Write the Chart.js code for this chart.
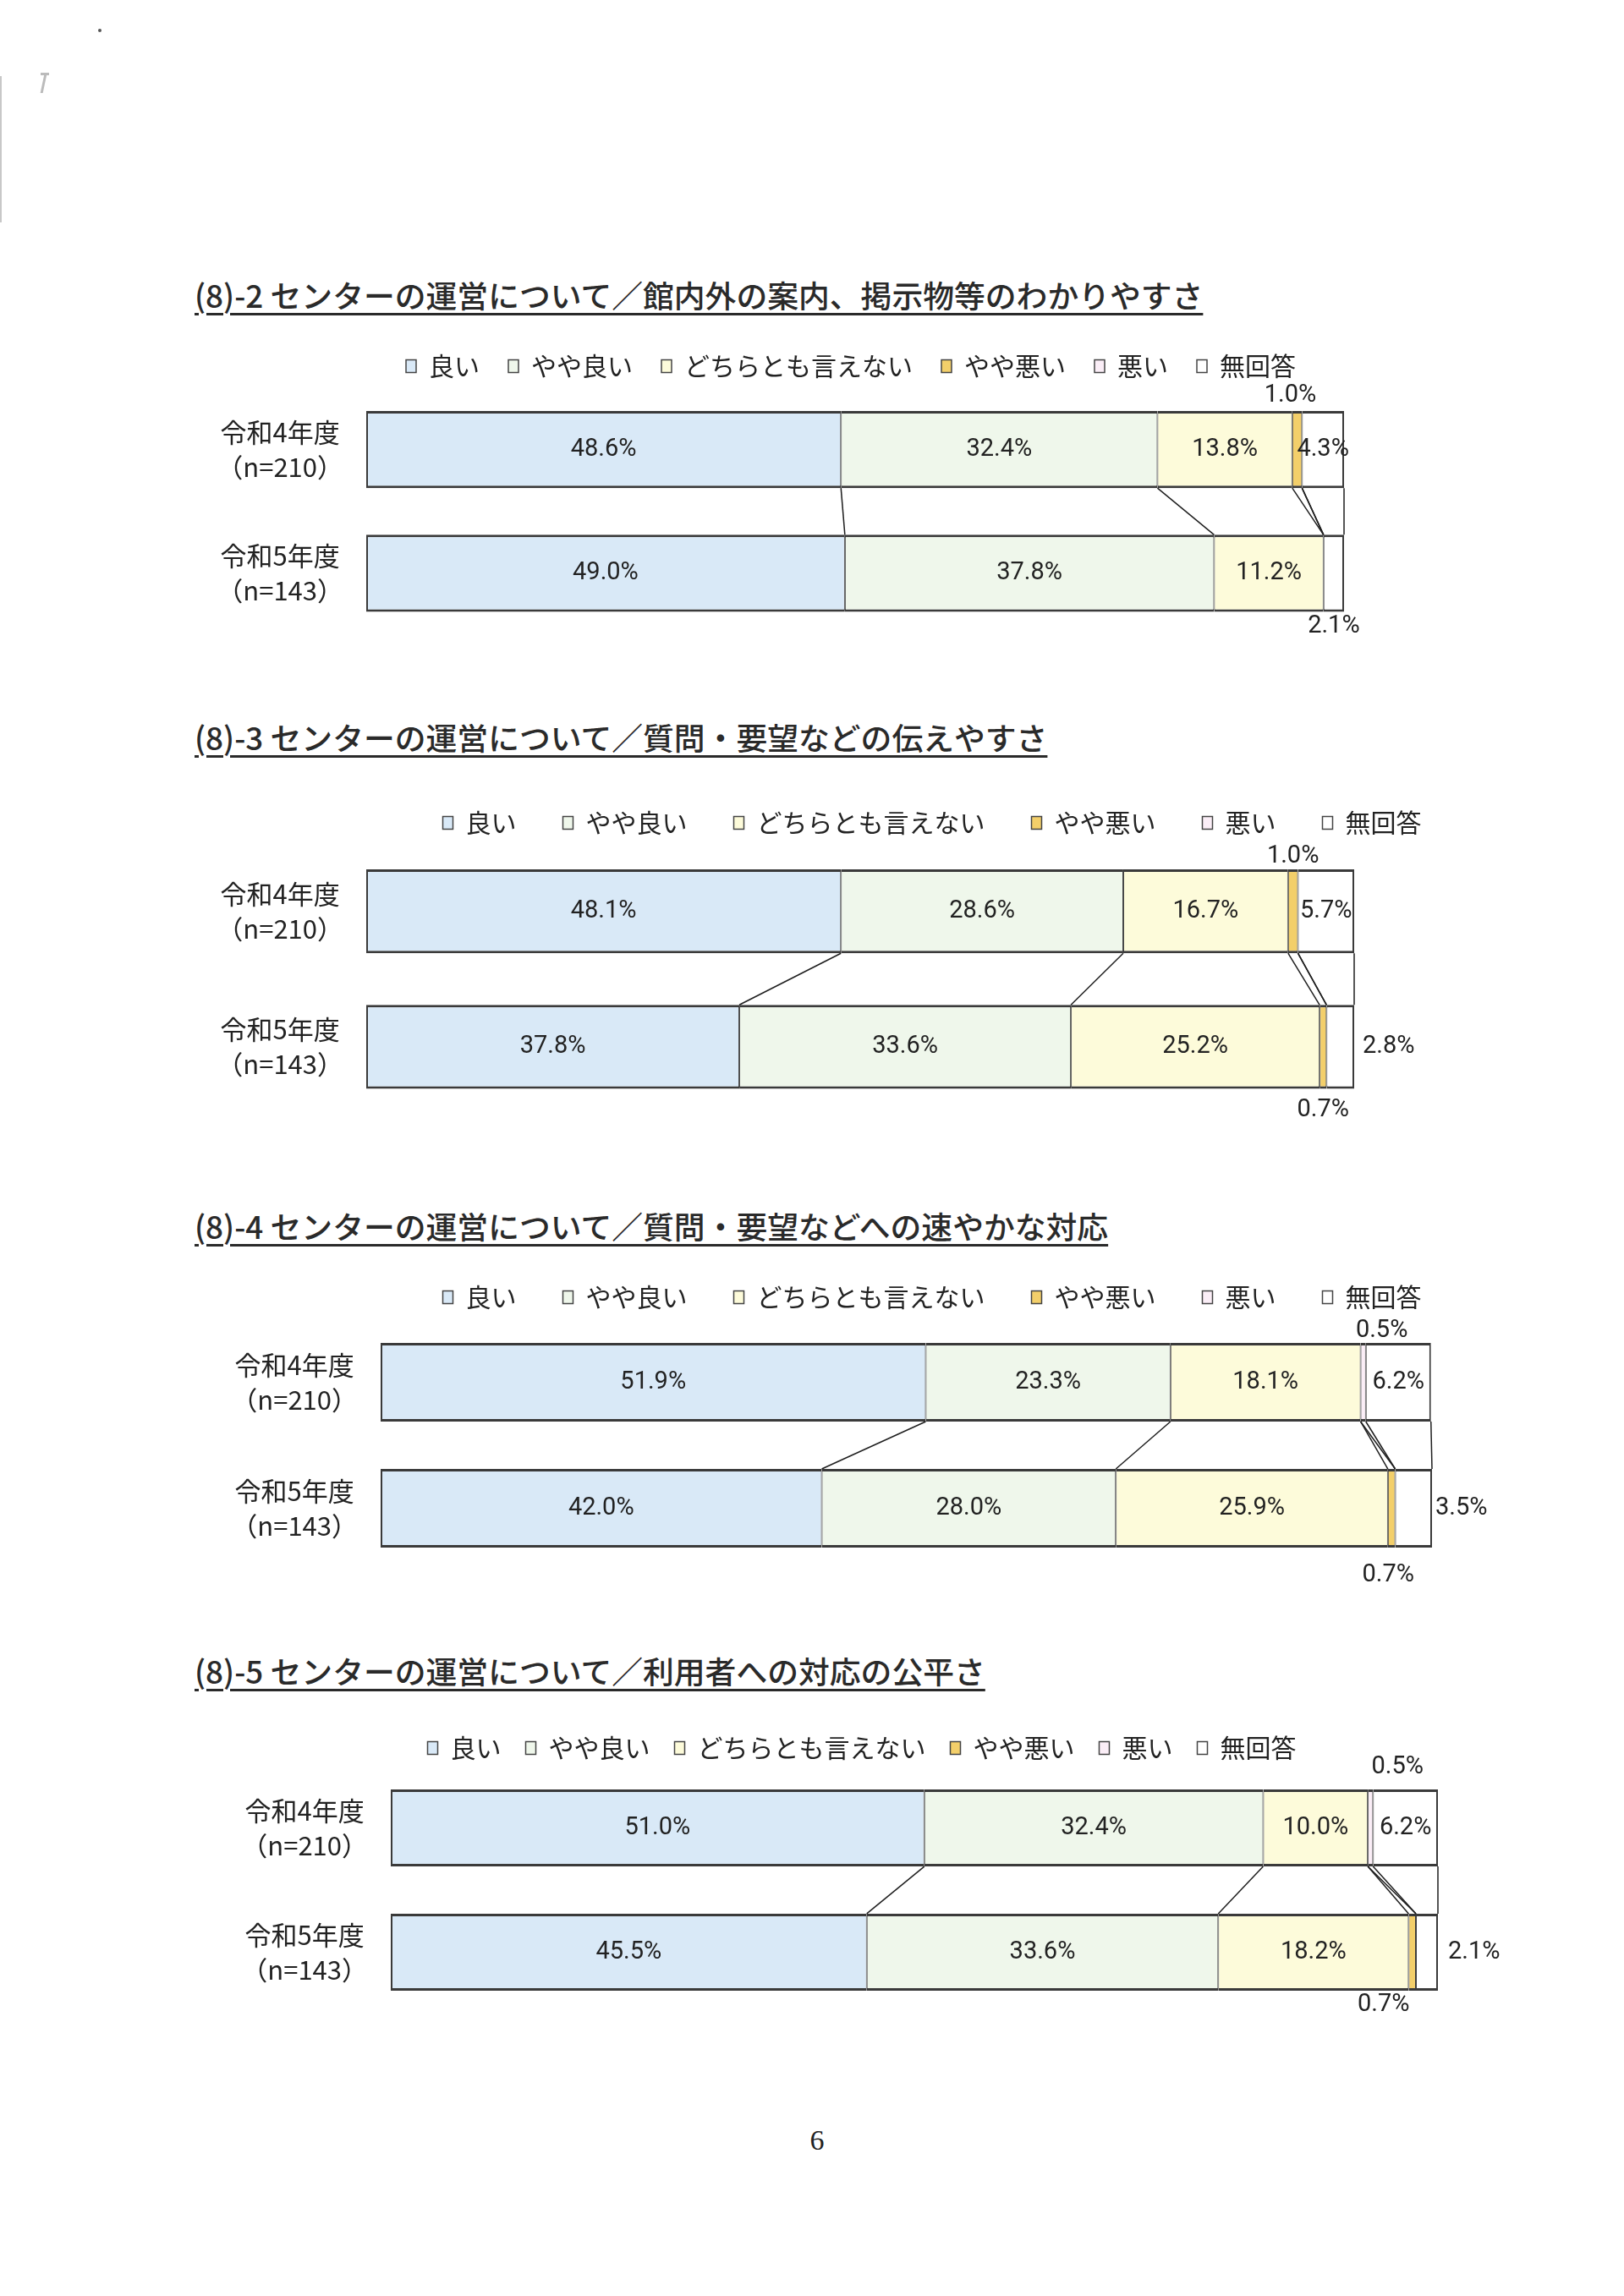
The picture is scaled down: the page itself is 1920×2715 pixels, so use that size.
<!DOCTYPE html>
<html><head><meta charset="utf-8">
<script src="https://cdn.jsdelivr.net/npm/chart.js@4.4.1/dist/chart.umd.min.js"></script>
<style>
html,body{margin:0;padding:0;background:#fff;overflow:hidden;}
body{width:1920px;height:2715px;position:relative;}
.title{position:absolute;left:230px;font-family:'Noto Sans CJK JP',sans-serif;font-weight:500;font-size:36.8px;color:#2a2a2a;line-height:1;white-space:nowrap;text-decoration:underline;text-decoration-thickness:3px;text-underline-offset:6px;}
canvas{position:absolute;left:0;}
.pnum{position:absolute;left:916px;width:100px;text-align:center;top:2512px;font-family:'Liberation Serif','DejaVu Serif',serif;font-size:34px;color:#222;}
.scan1{position:absolute;left:0;top:90px;width:2px;height:173px;background:#c8c8c8;}
.scan2{position:absolute;left:116px;top:34px;width:4px;height:4px;border-radius:2px;background:#555;}
.scan3{position:absolute;left:48px;top:86px;width:10px;height:3px;background:#bbb;}
.scan4{position:absolute;left:50px;top:88px;width:3px;height:22px;background:#bbb;transform:skewX(-12deg);}
</style>
</head><body>
<div class="scan1"></div><div class="scan2"></div><div class="scan3"></div><div class="scan4"></div>
<div class="pnum">6</div>
<script>
// ---- data ----
const SERIES = ['良い', 'やや良い', 'どちらとも言えない', 'やや悪い', '悪い', '無回答'];
const ROW_LABELS = [['令和4年度', '（n=210）'], ['令和5年度', '（n=143）']];
const TITLES = [
  '(8)-2 センターの運営について／館内外の案内、掲示物等のわかりやすさ',
  '(8)-3 センターの運営について／質問・要望などの伝えやすさ',
  '(8)-4 センターの運営について／質問・要望などへの速やかな対応',
  '(8)-5 センターの運営について／利用者への対応の公平さ'
];
// values in series order: 良い, やや良い, どちらとも言えない, やや悪い, 悪い, 無回答
const q2_r4 = [48.6, 32.4, 13.8, 1.0, 0, 4.3];
const q2_r5 = [49.0, 37.8, 11.2, 0, 0, 2.1];
const q3_r4 = [48.1, 28.6, 16.7, 1.0, 0, 5.7];
const q3_r5 = [37.8, 33.6, 25.2, 0.7, 0, 2.8];
const q4_r4 = [51.9, 23.3, 18.1, 0, 0.5, 6.2];
const q4_r5 = [42.0, 28.0, 25.9, 0.7, 0, 3.5];
const q5_r4 = [51.0, 32.4, 10.0, 0, 0.5, 6.2];
const q5_r5 = [45.5, 33.6, 18.2, 0.7, 0, 2.1];

// ---- style ----
const COLORS = ['#d9e9f7', '#eff7eb', '#fdfbda', '#f3cf6a', '#fbeef7', '#ffffff'];
const BORDER = '#3a3a3a';
const TEXT = '#222222';
const JP = "'Noto Sans CJK JP', sans-serif";
const NUM = "'Liberation Sans Narrow', 'Arial Narrow', Roboto, sans-serif";
const LEG_FONT = 30, PAD_TOP = 30, PAD_BOTTOM = 80, ITEM_H = 30, CANVAS_W = 2000, A = 240;

const charts = [
  {r4: q2_r4, r5: q2_r5, titleY: 350, legendY: 433, pad: 34, chartTop: 458.5, step: 146, barPct: 0.623,
   barLeft: 433, barRight: 1589, cx: 1006,
   marks: [{3: {pos: 'above', dx: -8, dy: 0}}, {5: {pos: 'below', dx: 0, dy: -3}}]},
  {r4: q3_r4, r5: q3_r5, titleY: 873, legendY: 973, pad: 55, chartTop: 997.5, step: 160, barPct: 0.619,
   barLeft: 433, barRight: 1601, cx: 1102,
   marks: [{3: {pos: 'above', dx: 0, dy: 3}}, {3: {pos: 'below', dx: 0, dy: 5}, 5: {pos: 'right', dx: 10}}]},
  {r4: q4_r4, r5: q4_r5, titleY: 1451, legendY: 1534, pad: 55, chartTop: 1560, step: 149, barPct: 0.624,
   barLeft: 450, barRight: 1693, cx: 1102,
   marks: [{4: {pos: 'above', dx: 22, dy: 4}}, {3: {pos: 'below', dx: -4, dy: 13}, 5: {pos: 'right', dx: 4}}]},
  {r4: q5_r4, r5: q5_r5, titleY: 1977, legendY: 2067, pad: 29, chartTop: 2088, step: 147, barPct: 0.62,
   barLeft: 462, barRight: 1700, cx: 1019,
   marks: [{4: {pos: 'above', dx: 32, dy: -8}}, {3: {pos: 'below', dx: -34, dy: -3}, 5: {pos: 'right', dx: 12}}]}
];

charts.forEach((L, ci) => {
  const t = document.createElement('div');
  t.className = 'title';
  t.textContent = TITLES[ci];
  t.style.top = (L.titleY - 20) + 'px';
  document.body.appendChild(t);

  const canvasTop = Math.round(L.legendY - L.pad - ITEM_H / 2 - PAD_TOP);
  const legendH = L.chartTop - (canvasTop + PAD_TOP);
  const canvasH = Math.round(L.chartTop - canvasTop + 2 * L.step + PAD_BOTTOM);
  const B = 2 * L.cx - A;
  const leftW = L.barLeft - A;
  const rightW = B - L.barRight;

  const cv = document.createElement('canvas');
  cv.width = CANVAS_W; cv.height = canvasH;
  cv.style.top = canvasTop + 'px';
  cv.style.width = CANVAS_W + 'px'; cv.style.height = canvasH + 'px';
  document.body.appendChild(cv);

  const rows = [L.r4, L.r5];
  const total = Math.max(...rows.map(r => r.reduce((a, b) => a + b, 0)));

  const datasets = SERIES.map((name, i) => ({
    label: name,
    data: [L.r4[i], L.r5[i]],
    backgroundColor: COLORS[i],
    borderColor: BORDER,
    borderWidth: {top: 3, bottom: 3, left: i === 0 ? 2 : 1, right: i === SERIES.length - 1 ? 2 : 1},
    borderSkipped: false,
    inflateAmount: 0,
    categoryPercentage: 1,
    barPercentage: L.barPct
  }));

  const fixLegend = {
    id: 'fixLegend',
    beforeInit(chart) {
      const lg = chart.legend;
      const orig = lg.fit;
      lg.fit = function () { orig.call(this); this.height = legendH; };
    }
  };

  const annot = {
    id: 'annot',
    afterDatasetsDraw(chart) {
      const ctx = chart.ctx;
      ctx.save();
      // series lines between the two bars
      ctx.strokeStyle = '#1e1e1e';
      ctx.lineWidth = 1.5;
      chart.data.datasets.forEach((ds, d) => {
        const m = chart.getDatasetMeta(d);
        const a = m.data[0].getProps(['x', 'y', 'height'], true);
        const b = m.data[1].getProps(['x', 'y', 'height'], true);
        ctx.beginPath();
        ctx.moveTo(a.x, a.y + a.height / 2);
        ctx.lineTo(b.x, b.y - b.height / 2);
        ctx.stroke();
      });
      // value labels
      ctx.fillStyle = TEXT;
      ctx.font = '29px ' + NUM;
      ctx.textBaseline = 'middle';
      chart.data.datasets.forEach((ds, d) => {
        const m = chart.getDatasetMeta(d);
        ds.data.forEach((v, r) => {
          if (!v) return;
          const el = m.data[r].getProps(['x', 'y', 'base', 'height'], true);
          const spec = L.marks[r][d] || {pos: 'in'};
          const txt = v.toFixed(1) + '%';
          let x = (el.x + el.base) / 2 + (spec.dx || 0);
          let y = el.y;
          ctx.textAlign = 'center';
          if (spec.pos === 'above') y = el.y - el.height / 2 - 18 + (spec.dy || 0);
          else if (spec.pos === 'below') y = el.y + el.height / 2 + 20 + (spec.dy || 0);
          else if (spec.pos === 'right') { x = chart.chartArea.right + (spec.dx || 0); ctx.textAlign = 'left'; }
          ctx.fillText(txt, x, y);
        });
      });
      ctx.restore();
    }
  };

  new Chart(cv, {
    type: 'bar',
    data: {labels: ROW_LABELS, datasets},
    options: {
      indexAxis: 'y',
      responsive: false,
      animation: false,
      devicePixelRatio: 1,
      events: [],
      layout: {padding: {left: A, right: CANVAS_W - B, top: PAD_TOP, bottom: PAD_BOTTOM}},
      scales: {
        x: {type: 'linear', stacked: true, min: 0, max: total, display: false},
        y: {
          type: 'category', stacked: true, position: 'left', offset: true,
          grid: {display: false, drawTicks: false},
          border: {display: false},
          ticks: {color: TEXT, font: {family: JP, size: 31, lineHeight: 1.33}, padding: 27, crossAlign: 'center'},
          afterFit(s) { s.width = leftW; }
        },
        y2: {
          type: 'category', position: 'right', display: true,
          grid: {display: false, drawTicks: false},
          border: {display: false},
          ticks: {display: false},
          afterFit(s) { s.width = rightW; }
        }
      },
      plugins: {
        tooltip: {enabled: false},
        title: {display: false},
        legend: {
          display: true, position: 'top', align: 'center',
          labels: {
            color: TEXT,
            font: {family: JP, size: LEG_FONT},
            boxWidth: 12, boxHeight: 15,
            padding: L.pad,
            generateLabels(chart) {
              const items = Chart.defaults.plugins.legend.labels.generateLabels(chart);
              items.forEach(it => { it.lineWidth = 1.5; it.strokeStyle = '#444'; });
              return items;
            }
          }
        }
      }
    },
    plugins: [fixLegend, annot]
  });
});
</script>
</body></html>
